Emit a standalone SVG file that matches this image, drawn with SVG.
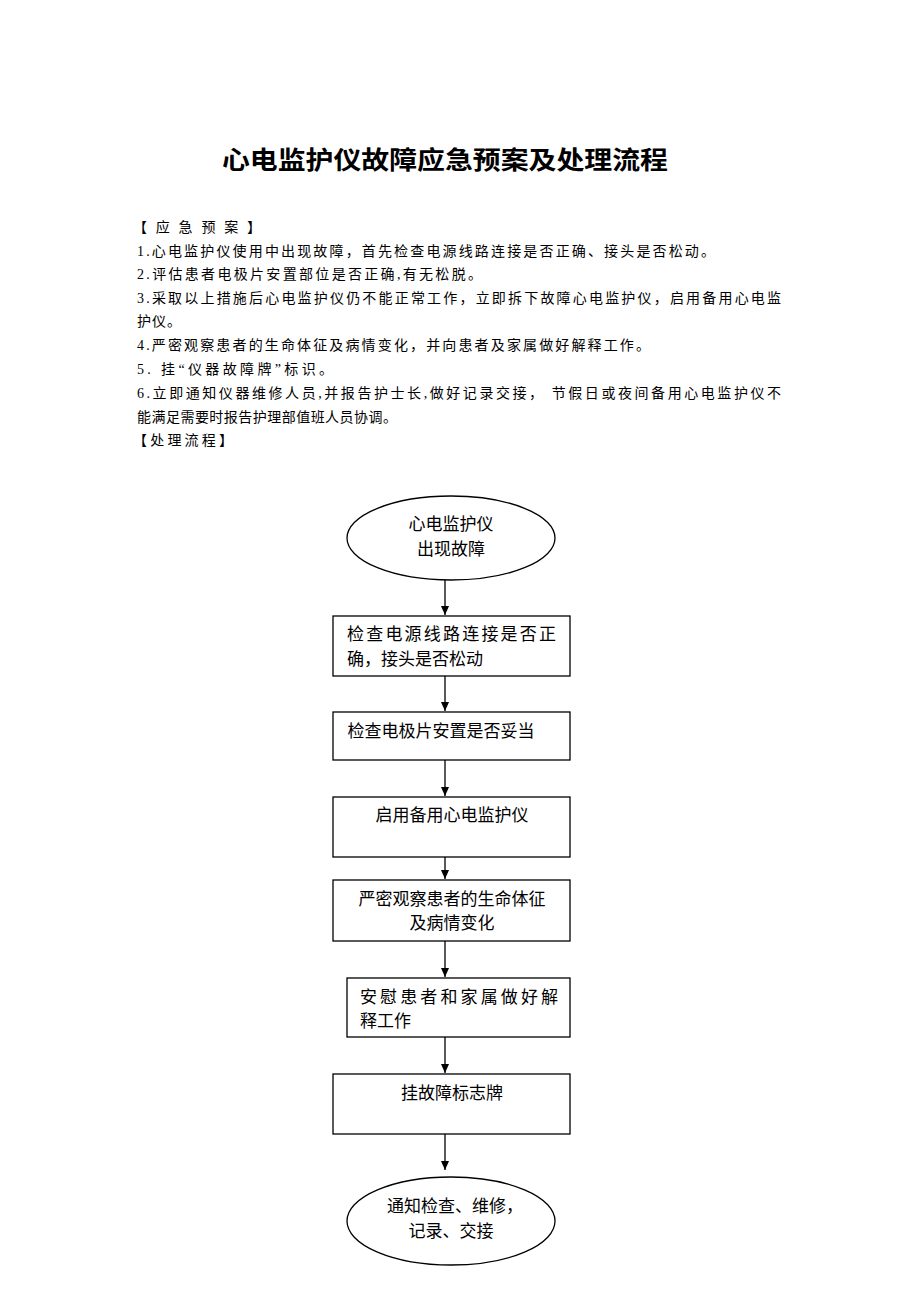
<svg xmlns="http://www.w3.org/2000/svg" width="920" height="1302" viewBox="0 0 920 1302">
<defs>
<marker id="ah" markerWidth="10" markerHeight="10" refX="9" refY="5" orient="auto" markerUnits="userSpaceOnUse"><path d="M0,1 L9,5 L0,9 z" fill="#000"/></marker>
<style>
text{font-family:"Liberation Serif","Noto Sans CJK SC",serif;fill:#000}
.b{font-size:14px}
.n{font-size:17px;text-anchor:middle}
.s{fill:#fff;stroke:#000;stroke-width:1.3}
.c{stroke:#000;stroke-width:1.3;fill:none;marker-end:url(#ah)}
</style>
</defs>
<rect width="920" height="1302" fill="#fff"/>
<text x="222" y="169" font-size="25" font-weight="bold" textLength="446" lengthAdjust="spacingAndGlyphs">心电监护仪故障应急预案及处理流程</text>
<g>
<text x="133" y="232" class="b" textLength="128">【应急预案】</text>
<text x="137" y="256" class="b" textLength="578">1.心电监护仪使用中出现故障，首先检查电源线路连接是否正确、接头是否松动。</text>
<text x="137" y="279" class="b" textLength="345">2.评估患者电极片安置部位是否正确,有无松脱。</text>
<text x="137" y="303" class="b" textLength="644">3.采取以上措施后心电监护仪仍不能正常工作，立即拆下故障心电监护仪，启用备用心电监</text>
<text x="137" y="326" class="b" textLength="44">护仪。</text>
<text x="137" y="350" class="b" textLength="513">4.严密观察患者的生命体征及病情变化，并向患者及家属做好解释工作。</text>
<text x="137" y="374" class="b" textLength="196">5. 挂“仪器故障牌”标识。</text>
<text x="137" y="398" class="b" textLength="644">6.立即通知仪器维修人员,并报告护士长,做好记录交接，  节假日或夜间备用心电监护仪不</text>
<text x="137" y="422" class="b" textLength="260">能满足需要时报告护理部值班人员协调。</text>
<text x="133" y="445" class="b" textLength="100">【处理流程】</text>
</g>
<g id="connectors">
<line class="c" x1="445" y1="580" x2="445" y2="615"/>
<line class="c" x1="445" y1="676" x2="445" y2="711"/>
<line class="c" x1="445" y1="760" x2="445" y2="796"/>
<line class="c" x1="445" y1="857" x2="445" y2="879"/>
<line class="c" x1="445" y1="941" x2="445" y2="977"/>
<line class="c" x1="445" y1="1037" x2="445" y2="1073"/>
<line class="c" x1="445" y1="1134" x2="445" y2="1170"/>
</g>
<g id="n1"><ellipse class="s" cx="451" cy="538" rx="104" ry="42"/><text class="n" x="451" y="530">心电监护仪</text><text class="n" x="451" y="555">出现故障</text></g>
<g id="n2"><rect class="s" x="333" y="616" width="237" height="60"/><text x="347" y="640" font-size="17" textLength="209">检查电源线路连接是否正</text><text x="347" y="665" font-size="17">确，接头是否松动</text></g>
<g id="n3"><rect class="s" x="333" y="712" width="237" height="48"/><text class="n" x="441" y="737">检查电极片安置是否妥当</text></g>
<g id="n4"><rect class="s" x="333" y="797" width="237" height="60"/><text class="n" x="452" y="821">启用备用心电监护仪</text></g>
<g id="n5"><rect class="s" x="333" y="880" width="237" height="61"/><text class="n" x="452" y="905">严密观察患者的生命体征</text><text class="n" x="452" y="929">及病情变化</text></g>
<g id="n6"><rect class="s" x="347" y="978" width="223" height="59"/><text x="360" y="1003" font-size="17" textLength="198">安慰患者和家属做好解</text><text x="360" y="1027" font-size="17">释工作</text></g>
<g id="n7"><rect class="s" x="333" y="1074" width="237" height="60"/><text class="n" x="452" y="1099">挂故障标志牌</text></g>
<g id="n8"><ellipse class="s" cx="451" cy="1221" rx="104" ry="44"/><text class="n" x="455" y="1212">通知检查、维修，</text><text class="n" x="451" y="1237">记录、交接</text></g>
</svg>
